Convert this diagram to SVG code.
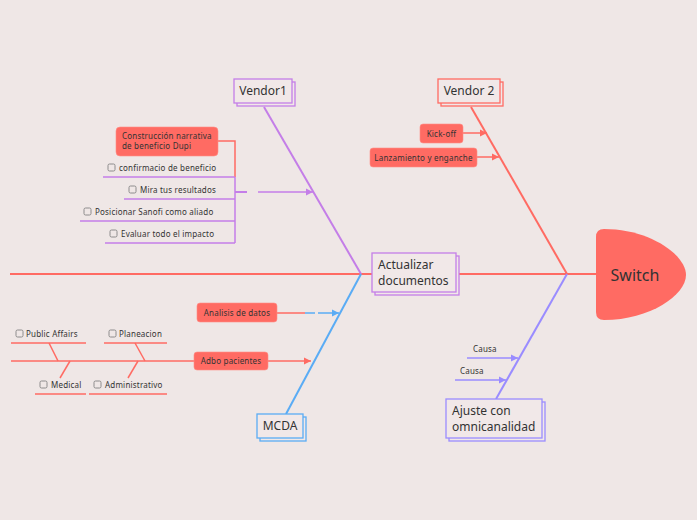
<svg xmlns="http://www.w3.org/2000/svg" width="697" height="520" viewBox="0 0 697 520">
<defs>
<style>
text{font-family:"Noto Sans",Lato,"Liberation Sans",sans-serif;fill:#333}
.main{font-size:12px}
.sm{font-size:8px;letter-spacing:0.2px}
.cb{fill:none;stroke:#777;stroke-width:0.8}
.box{fill:#f1e8e8;stroke-width:1.3}
.red{stroke:#ff6b63}
.pur{stroke:#c47ee8}
.blu{stroke:#5aacf5}
.lav{stroke:#9a8cff}
.ln{fill:none;stroke-width:2}
.thin{fill:none;stroke-width:1.5}
.rbox{fill:#ff6b63;stroke:#ff8f88;stroke-width:0.6}
</style>
<marker id="ar" markerWidth="8" markerHeight="8" refX="7" refY="4" orient="auto" markerUnits="userSpaceOnUse"><path d="M0,0.5 L7,4 L0,7.5 Z" fill="#ff6b63"/></marker>
<marker id="ap" markerWidth="8" markerHeight="8" refX="7" refY="4" orient="auto" markerUnits="userSpaceOnUse"><path d="M0,0.5 L7,4 L0,7.5 Z" fill="#c47ee8"/></marker>
<marker id="ab" markerWidth="8" markerHeight="8" refX="7" refY="4" orient="auto" markerUnits="userSpaceOnUse"><path d="M0,0.5 L7,4 L0,7.5 Z" fill="#5aacf5"/></marker>
<marker id="al" markerWidth="8" markerHeight="8" refX="7" refY="4" orient="auto" markerUnits="userSpaceOnUse"><path d="M0,0.5 L7,4 L0,7.5 Z" fill="#9a8cff"/></marker>
</defs>
<rect width="697" height="520" fill="#efe7e6"/>

<g id="connectors">
<line x1="10" y1="274" x2="598" y2="274" class="ln red"/>
<line x1="471" y1="107" x2="567" y2="274" class="ln red"/>
<line x1="567" y1="274" x2="496" y2="399" class="ln lav"/>
<line x1="264" y1="107" x2="361" y2="274" class="ln pur"/>
<line x1="361" y1="274" x2="286" y2="414" class="ln blu"/>
<line x1="463" y1="133" x2="487" y2="133" class="thin red" marker-end="url(#ar)"/>
<line x1="477" y1="157" x2="499" y2="157" class="thin red" marker-end="url(#ar)"/>
<polyline points="218,141 235,141 235,177" class="thin red"/>
<line x1="235" y1="177" x2="235" y2="243" class="thin pur"/>
<line x1="103" y1="177" x2="235" y2="177" class="thin pur"/>
<line x1="124" y1="199" x2="235" y2="199" class="thin pur"/>
<line x1="80" y1="221" x2="235" y2="221" class="thin pur"/>
<line x1="105" y1="243" x2="235" y2="243" class="thin pur"/>
<line x1="235" y1="192" x2="247" y2="192" class="ln pur"/>
<line x1="258" y1="192" x2="313" y2="192" class="thin pur" marker-end="url(#ap)"/>
<line x1="277" y1="313" x2="305" y2="313" class="thin red"/>
<line x1="305" y1="313" x2="315" y2="313" class="thin blu"/>
<line x1="318" y1="313" x2="339" y2="313" class="thin blu" marker-end="url(#ab)"/>
<line x1="11" y1="361" x2="311" y2="361" class="thin red" marker-end="url(#ar)"/>
<line x1="11" y1="343" x2="86" y2="343" class="thin red"/>
<line x1="49" y1="343" x2="58" y2="361" class="thin red"/>
<line x1="104" y1="343" x2="167" y2="343" class="thin red"/>
<line x1="135" y1="343" x2="145" y2="361" class="thin red"/>
<line x1="35" y1="394" x2="86" y2="394" class="thin red"/>
<line x1="70" y1="361" x2="60" y2="378" class="thin red"/>
<line x1="89" y1="394" x2="167" y2="394" class="thin red"/>
<line x1="138" y1="361" x2="128" y2="378" class="thin red"/>
<line x1="467" y1="358" x2="518" y2="358" class="thin lav" marker-end="url(#al)"/>
<line x1="455" y1="380" x2="506" y2="380" class="thin lav" marker-end="url(#al)"/>
</g>

<g id="switch">
<path d="M604,229 C650,229 686,255 686,275 C686,295 650,320 604,320 Q596,320 596,312 L596,237 Q596,229 604,229 Z" fill="#ff6b63"/>
<text x="635" y="281" font-size="16" text-anchor="middle">Switch</text>
</g>

<g id="vendor1">
<rect x="237" y="82" width="58" height="24" class="box pur"/>
<rect x="234" y="79" width="58" height="24" class="box pur"/>
<text x="263" y="95" class="main" text-anchor="middle">Vendor1</text>
</g>

<g id="vendor2">
<rect x="441" y="82" width="62" height="24" class="box red"/>
<rect x="438" y="79" width="62" height="24" class="box red"/>
<text x="469" y="95" class="main" text-anchor="middle">Vendor 2</text>
</g>

<g id="actualizar">
<rect x="375" y="256" width="84" height="39" class="box pur"/>
<rect x="372" y="253" width="84" height="39" class="box pur"/>
<text x="378" y="269" class="main">Actualizar</text>
<text x="378" y="285" class="main">documentos</text>
</g>

<g id="ajuste">
<rect x="449" y="402" width="96" height="39" class="box lav"/>
<rect x="446" y="399" width="96" height="39" class="box lav"/>
<text x="452" y="415" class="main">Ajuste con</text>
<text x="452" y="431" class="main">omnicanalidad</text>
</g>

<g id="mcda">
<rect x="260" y="417" width="46" height="24" class="box blu"/>
<rect x="257" y="414" width="46" height="24" class="box blu"/>
<text x="280" y="430" class="main" text-anchor="middle">MCDA</text>
</g>

<g id="kickoff">
<rect x="420" y="124" width="43" height="19" rx="3" class="rbox"/>
<text x="441.5" y="136.5" class="sm" text-anchor="middle">Kick-off</text>
</g>
<g id="lanzamiento">
<rect x="370" y="148" width="107" height="19" rx="3" class="rbox"/>
<text x="423.5" y="160.5" class="sm" text-anchor="middle">Lanzamiento y enganche</text>
</g>

<g id="construccion">
<rect x="116" y="127" width="102" height="29" rx="4" class="rbox"/>
<text x="122" y="139" class="sm">Construcción narrativa</text>
<text x="122" y="149" class="sm">de beneficio Dupi</text>
</g>
<g id="confirmacio">
<rect x="108" y="164" width="7" height="7" rx="1.5" class="cb"/>
<text x="119" y="171" class="sm">confirmacio de beneficio</text>
</g>
<g id="mira">
<rect x="129" y="186" width="7" height="7" rx="1.5" class="cb"/>
<text x="140" y="193" class="sm">Mira tus resultados</text>
</g>
<g id="posicionar">
<rect x="84" y="208" width="7" height="7" rx="1.5" class="cb"/>
<text x="95" y="215" class="sm">Posicionar Sanofi como aliado</text>
</g>
<g id="evaluar">
<rect x="110" y="230" width="7" height="7" rx="1.5" class="cb"/>
<text x="121" y="237" class="sm">Evaluar todo el impacto</text>
</g>

<g id="analisis">
<rect x="197" y="303" width="80" height="19" rx="3" class="rbox"/>
<text x="237" y="315.5" class="sm" text-anchor="middle">Analisis de datos</text>
</g>
<g id="adbo">
<rect x="194" y="352" width="74" height="18" rx="3" class="rbox"/>
<text x="231" y="364" class="sm" text-anchor="middle">Adbo pacientes</text>
</g>
<g id="public">
<rect x="16" y="330" width="7" height="7" rx="1.5" class="cb"/>
<text x="26" y="337" class="sm">Public Affairs</text>
</g>
<g id="planeacion">
<rect x="109" y="330" width="7" height="7" rx="1.5" class="cb"/>
<text x="119" y="337" class="sm">Planeacion</text>
</g>
<g id="medical">
<rect x="40" y="381" width="7" height="7" rx="1.5" class="cb"/>
<text x="51" y="388" class="sm">Medical</text>
</g>
<g id="administrativo">
<rect x="94" y="381" width="7" height="7" rx="1.5" class="cb"/>
<text x="105" y="388" class="sm">Administrativo</text>
</g>

<g id="causa1"><text x="473" y="352" class="sm">Causa</text></g>
<g id="causa2"><text x="460" y="374" class="sm">Causa</text></g>
</svg>
